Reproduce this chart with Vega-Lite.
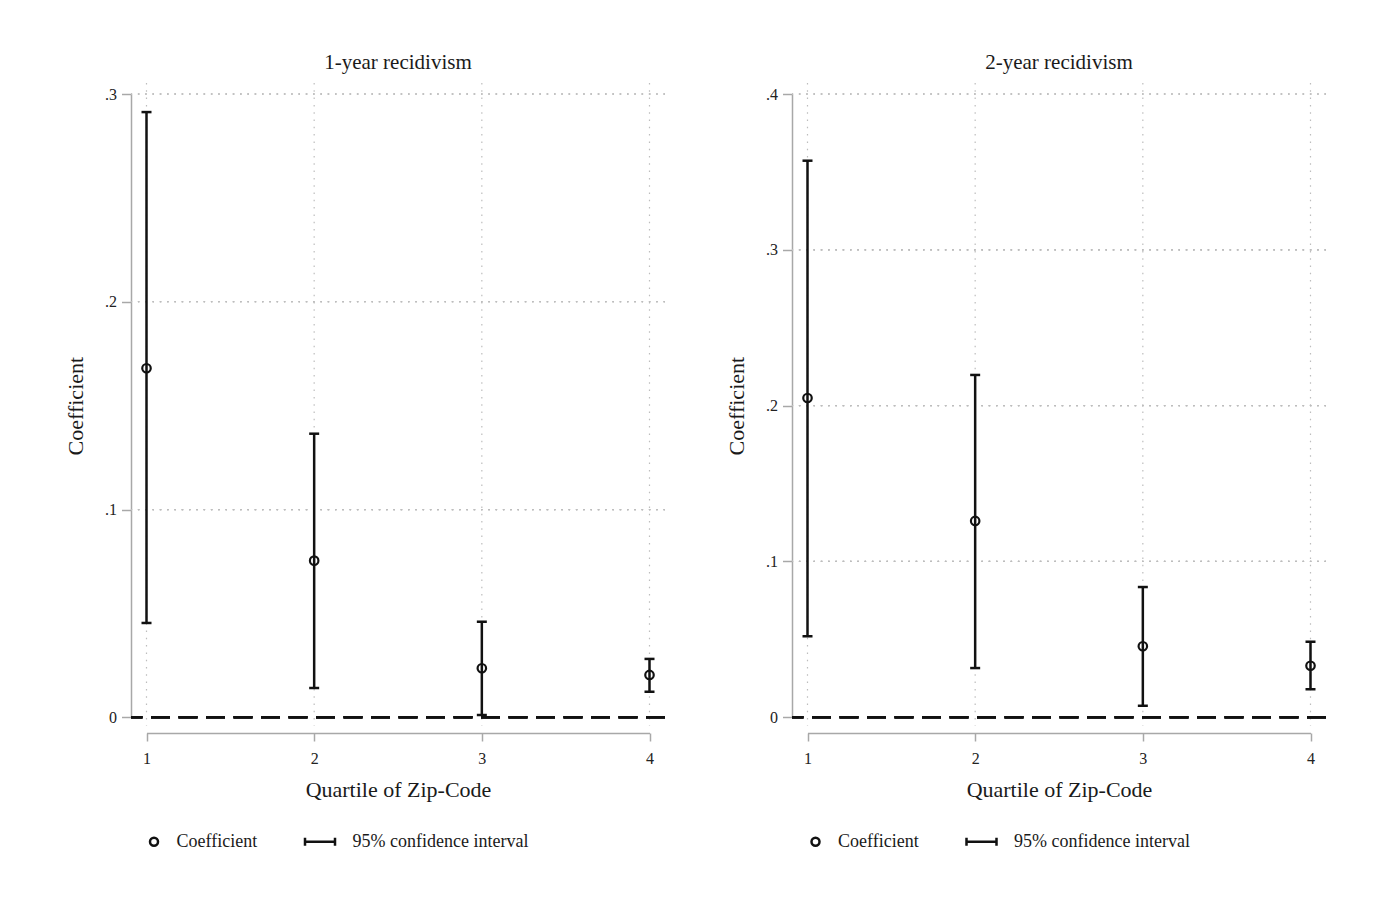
{
  "$schema": "https://vega.github.io/schema/vega-lite/v6.json",
  "background": "white",
  "padding": {"left": 64, "top": 52, "right": 5, "bottom": 5},
  "config": {
    "font": "Liberation Serif",
    "view": {"stroke": null},
    "title": {"font": "Liberation Serif", "fontSize": 21, "fontWeight": "normal", "color": "#1a1a1a", "offset": 9},
    "axis": {
      "labelFont": "Liberation Serif", "titleFont": "Liberation Serif",
      "labelFontSize": 16, "titleFontSize": 22, "titleFontWeight": "normal",
      "labelColor": "#222222", "titleColor": "#1a1a1a",
      "domainColor": "#a8a8a8", "domainWidth": 1.5,
      "tickColor": "#a8a8a8", "tickWidth": 1.5, "grid": false, "labelFlush": false
    },
    "legend": {
      "labelFont": "Liberation Serif", "labelFontSize": 18, "labelColor": "#1a1a1a",
      "padding": 0, "labelLimit": 400
    }
  },
  "data": {
    "values": [
      {"outcome": "1-year recidivism", "quartile": 1, "coef": 0.168, "lo": 0.0454, "hi": 0.2913},
      {"outcome": "1-year recidivism", "quartile": 2, "coef": 0.0754, "lo": 0.0141, "hi": 0.1365},
      {"outcome": "1-year recidivism", "quartile": 3, "coef": 0.0236, "lo": 0.0011, "hi": 0.046},
      {"outcome": "1-year recidivism", "quartile": 4, "coef": 0.0204, "lo": 0.0123, "hi": 0.0281},
      {"outcome": "2-year recidivism", "quartile": 1, "coef": 0.2049, "lo": 0.052, "hi": 0.3572},
      {"outcome": "2-year recidivism", "quartile": 2, "coef": 0.126, "lo": 0.0316, "hi": 0.2197},
      {"outcome": "2-year recidivism", "quartile": 3, "coef": 0.0456, "lo": 0.0074, "hi": 0.0836},
      {"outcome": "2-year recidivism", "quartile": 4, "coef": 0.0331, "lo": 0.018, "hi": 0.0485}
    ]
  },
  "spacing": 58,
  "resolve": {"scale": {"shape": "independent"}, "legend": {"shape": "independent"}},
  "hconcat": [
    {
      "title": "1-year recidivism",
      "width": 534, "height": 643,
      "transform": [{"filter": "datum.outcome == '1-year recidivism'"}],
      "layer": [
        {"mark": {"type": "rule", "color": "#bdbdbd", "strokeWidth": 1.2, "strokeDash": [1.5, 5.8]},
         "encoding": {"x": {"field": "quartile", "type": "quantitative", "title": "Quartile of Zip-Code", "scale": {"domain": [1, 4], "range": [15.5, 518.5], "nice": false, "zero": false}}}},
        {"mark": {"type": "rule", "color": "#bdbdbd", "strokeWidth": 1.2, "strokeDash": [1.5, 5.8]},
         "encoding": {"y": {"datum": 0.1, "type": "quantitative", "title": "Coefficient", "scale": {"domain": [0, 0.3], "range": [634.3, 11], "nice": false, "zero": false}}}},
        {"mark": {"type": "rule", "color": "#bdbdbd", "strokeWidth": 1.2, "strokeDash": [1.5, 5.8]},
         "encoding": {"y": {"datum": 0.2, "type": "quantitative", "title": "Coefficient"}}},
        {"mark": {"type": "rule", "color": "#bdbdbd", "strokeWidth": 1.2, "strokeDash": [1.5, 5.8]},
         "encoding": {"y": {"datum": 0.3, "type": "quantitative", "title": "Coefficient"}}},
        {"mark": {"type": "rule", "color": "#111111", "strokeWidth": 2.5, "strokeDash": [19, 8.5]},
         "encoding": {"y": {"datum": 0, "type": "quantitative", "title": "Coefficient"}}},
        {"mark": {"type": "rule", "color": "#111111", "strokeWidth": 2.5},
         "encoding": {
           "x": {"field": "quartile", "type": "quantitative", "title": "Quartile of Zip-Code",
                 "axis": {"values": [1, 2, 3, 4], "format": "d", "offset": 7, "tickSize": 8, "labelPadding": 9, "titlePadding": 13}},
           "y": {"field": "lo", "type": "quantitative", "title": "Coefficient",
                 "axis": {"values": [0, 0.1, 0.2, 0.3], "labelExpr": "datum.value == 0 ? '0' : replace(format(datum.value, '.1f'), '0.', '.')", "tickSize": 9.5, "labelPadding": 5, "titlePadding": 17}},
           "y2": {"field": "hi"}
         }},
        {"mark": {"type": "tick", "orient": "horizontal", "size": 10, "thickness": 2.5, "color": "#111111", "opacity": 1},
         "encoding": {"x": {"field": "quartile", "type": "quantitative", "title": "Quartile of Zip-Code"}, "y": {"field": "hi", "type": "quantitative", "title": "Coefficient"}}},
        {"mark": {"type": "tick", "orient": "horizontal", "size": 10, "thickness": 2.5, "color": "#111111", "opacity": 1},
         "encoding": {"x": {"field": "quartile", "type": "quantitative", "title": "Quartile of Zip-Code"}, "y": {"field": "lo", "type": "quantitative", "title": "Coefficient"}}},
        {"mark": {"type": "point", "shape": "circle", "filled": false, "color": "#111111", "strokeWidth": 2.2, "size": 72, "opacity": 1},
         "encoding": {"x": {"field": "quartile", "type": "quantitative", "title": "Quartile of Zip-Code"}, "y": {"field": "coef", "type": "quantitative", "title": "Coefficient"}}},
        {"transform": [{"filter": "false"}],
         "mark": {"type": "point", "filled": false, "color": "#111111", "strokeWidth": 2.5, "opacity": 1},
         "encoding": {
           "x": {"field": "quartile", "type": "quantitative", "title": "Quartile of Zip-Code"},
           "y": {"field": "coef", "type": "quantitative", "title": "Coefficient"},
           "shape": {"datum": "Coefficient", "type": "nominal",
             "scale": {"domain": ["Coefficient", "95% confidence interval"], "range": ["M0.4,0A0.267,0.267,0,1,0,0.934,0A0.267,0.267,0,1,0,0.4,0Z", "M-1,-0.27L-1,0.27M-1,0L1,0M1,-0.27L1,0.27"]},
             "legend": {"orient": "none", "legendX": -3.5, "legendY": 742, "direction": "horizontal", "title": null, "symbolSize": 900, "symbolStrokeWidth": 2.5, "symbolStrokeColor": "#111111", "symbolFillColor": "transparent", "symbolOpacity": 1, "labelOffset": 16, "columnPadding": 42, "labelBaseline": "middle"}}
         }}
      ]
    },
    {
      "title": "2-year recidivism",
      "width": 534, "height": 643,
      "transform": [{"filter": "datum.outcome == '2-year recidivism'"}],
      "layer": [
        {"mark": {"type": "rule", "color": "#bdbdbd", "strokeWidth": 1.2, "strokeDash": [1.5, 5.8]},
         "encoding": {"x": {"field": "quartile", "type": "quantitative", "title": "Quartile of Zip-Code", "scale": {"domain": [1, 4], "range": [15.5, 518.5], "nice": false, "zero": false}}}},
        {"mark": {"type": "rule", "color": "#bdbdbd", "strokeWidth": 1.2, "strokeDash": [1.5, 5.8]},
         "encoding": {"y": {"datum": 0.1, "type": "quantitative", "title": "Coefficient", "scale": {"domain": [0, 0.4], "range": [634.3, 11], "nice": false, "zero": false}}}},
        {"mark": {"type": "rule", "color": "#bdbdbd", "strokeWidth": 1.2, "strokeDash": [1.5, 5.8]},
         "encoding": {"y": {"datum": 0.2, "type": "quantitative", "title": "Coefficient"}}},
        {"mark": {"type": "rule", "color": "#bdbdbd", "strokeWidth": 1.2, "strokeDash": [1.5, 5.8]},
         "encoding": {"y": {"datum": 0.3, "type": "quantitative", "title": "Coefficient"}}},
        {"mark": {"type": "rule", "color": "#bdbdbd", "strokeWidth": 1.2, "strokeDash": [1.5, 5.8]},
         "encoding": {"y": {"datum": 0.4, "type": "quantitative", "title": "Coefficient"}}},
        {"mark": {"type": "rule", "color": "#111111", "strokeWidth": 2.5, "strokeDash": [19, 8.5]},
         "encoding": {"y": {"datum": 0, "type": "quantitative", "title": "Coefficient"}}},
        {"mark": {"type": "rule", "color": "#111111", "strokeWidth": 2.5},
         "encoding": {
           "x": {"field": "quartile", "type": "quantitative", "title": "Quartile of Zip-Code",
                 "axis": {"values": [1, 2, 3, 4], "format": "d", "offset": 7, "tickSize": 8, "labelPadding": 9, "titlePadding": 13}},
           "y": {"field": "lo", "type": "quantitative", "title": "Coefficient",
                 "axis": {"values": [0, 0.1, 0.2, 0.3, 0.4], "labelExpr": "datum.value == 0 ? '0' : replace(format(datum.value, '.1f'), '0.', '.')", "tickSize": 9.5, "labelPadding": 5, "titlePadding": 17}},
           "y2": {"field": "hi"}
         }},
        {"mark": {"type": "tick", "orient": "horizontal", "size": 10, "thickness": 2.5, "color": "#111111", "opacity": 1},
         "encoding": {"x": {"field": "quartile", "type": "quantitative", "title": "Quartile of Zip-Code"}, "y": {"field": "hi", "type": "quantitative", "title": "Coefficient"}}},
        {"mark": {"type": "tick", "orient": "horizontal", "size": 10, "thickness": 2.5, "color": "#111111", "opacity": 1},
         "encoding": {"x": {"field": "quartile", "type": "quantitative", "title": "Quartile of Zip-Code"}, "y": {"field": "lo", "type": "quantitative", "title": "Coefficient"}}},
        {"mark": {"type": "point", "shape": "circle", "filled": false, "color": "#111111", "strokeWidth": 2.2, "size": 72, "opacity": 1},
         "encoding": {"x": {"field": "quartile", "type": "quantitative", "title": "Quartile of Zip-Code"}, "y": {"field": "coef", "type": "quantitative", "title": "Coefficient"}}},
        {"transform": [{"filter": "false"}],
         "mark": {"type": "point", "filled": false, "color": "#111111", "strokeWidth": 2.5, "opacity": 1},
         "encoding": {
           "x": {"field": "quartile", "type": "quantitative", "title": "Quartile of Zip-Code"},
           "y": {"field": "coef", "type": "quantitative", "title": "Coefficient"},
           "shape": {"datum": "Coefficient", "type": "nominal",
             "scale": {"domain": ["Coefficient", "95% confidence interval"], "range": ["M0.4,0A0.267,0.267,0,1,0,0.934,0A0.267,0.267,0,1,0,0.4,0Z", "M-1,-0.27L-1,0.27M-1,0L1,0M1,-0.27L1,0.27"]},
             "legend": {"orient": "none", "legendX": -3, "legendY": 742, "direction": "horizontal", "title": null, "symbolSize": 900, "symbolStrokeWidth": 2.5, "symbolStrokeColor": "#111111", "symbolFillColor": "transparent", "symbolOpacity": 1, "labelOffset": 16, "columnPadding": 42, "labelBaseline": "middle"}}
         }}
      ]
    }
  ]
}
